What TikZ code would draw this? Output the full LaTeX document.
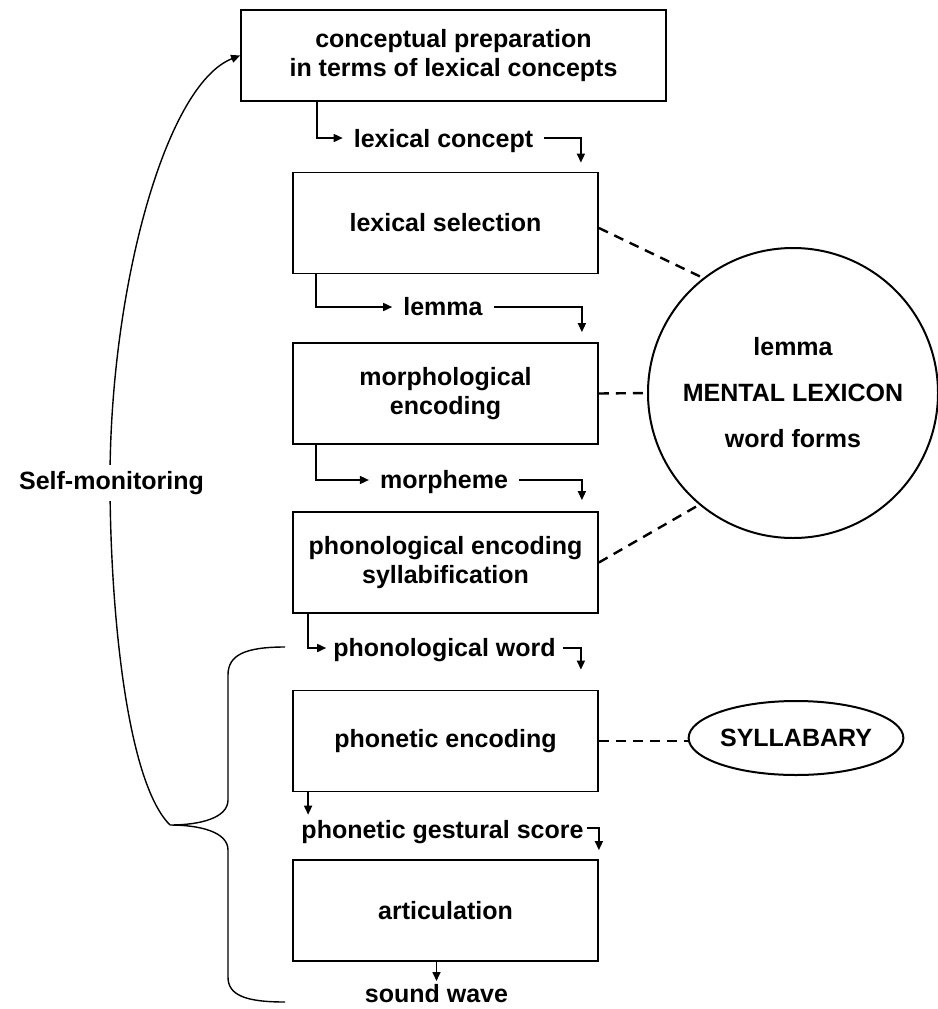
\documentclass[tikz,border=0pt]{standalone}
\usepackage{fontspec}
\setmainfont{Liberation Sans}
\usetikzlibrary{arrows.meta,shapes.geometric}
\newcommand\stagefont{\fontsize{25}{29}\selectfont\bfseries}
\begin{document}
\begin{tikzpicture}[x=1pt,y=-1pt,
  stage/.style={draw, line width=1.8pt, minimum width=305pt, minimum height=101pt,
    inner sep=0pt, align=center, font=\stagefont},
  lbl/.style={inner xsep=11pt, inner ysep=3pt, anchor=base, font=\stagefont},
  flow/.style={-{Triangle[length=9pt,width=8pt]}, line width=1.6pt},
  link/.style={dash pattern=on 10pt off 7pt, line width=2.4pt},
  thinline/.style={line width=1.4pt}]
\useasboundingbox (0,0) rectangle (937,1009);

% processing stages
\node[stage, minimum width=425pt, minimum height=91pt] (top) at (453.5,55.5)
  {conceptual preparation\\in terms of lexical concepts};
\node[stage] (b2) at (445.5,223) {lexical selection};
\node[stage] (b3) at (445.5,393.5) {morphological\\encoding};
\node[stage] (b4) at (445.5,562.5) {phonological encoding\\syllabification};
\node[stage] (b5) at (445.5,741) {phonetic encoding};
\node[stage] (b6) at (445.5,910.5) {articulation};

% intermediate representations (placed on their baselines)
\node[lbl] (lc) at (443.5,147) {lexical concept};
\node[lbl] (lm) at (443,315) {lemma};
\node[lbl] (mp) at (444,488) {morpheme};
\node[lbl, inner xsep=7pt] (pw) at (444.5,656) {phonological word};
\node[lbl, inner xsep=3pt, inner ysep=5pt] (pg) at (442.5,838) {phonetic gestural score};
\node[lbl, anchor=north, inner ysep=3pt] (sw) at (436.5,981) {sound wave};

% flow between stages
\draw[flow] ([xshift=77pt]top.south west) |- ([yshift=9pt]lc.base west);
\draw[flow] ([yshift=9pt]lc.base east) -| ([xshift=-18pt,yshift=9pt]b2.north east);
\draw[flow] ([xshift=24pt]b2.south west) |- ([yshift=8pt]lm.base west);
\draw[flow] ([yshift=8pt]lm.base east) -| ([xshift=-17pt,yshift=10pt]b3.north east);
\draw[flow] ([xshift=24pt]b3.south west) |- ([yshift=8pt]mp.base west);
\draw[flow] ([yshift=8pt]mp.base east) -| ([xshift=-17pt,yshift=11pt]b4.north east);
\draw[flow] ([xshift=16pt]b4.south west) |- ([yshift=8pt]pw.base west);
\draw[flow] ([yshift=8pt]pw.base east) -| ([xshift=-18pt,yshift=20pt]b5.north east);
\coordinate (b5out) at ([xshift=16pt]b5.south west);
\draw[flow] (b5out) -- (b5out |- pg.north);
\draw[flow] ([yshift=10pt]pg.base east) -| ([yshift=9pt]b6.north east);
\draw[flow] ([xshift=-9pt]b6.south) -- (sw.north);

% stores
\node[circle, draw, line width=2pt, minimum size=290pt, inner sep=0pt, align=center,
  font=\fontsize{25}{46}\selectfont\bfseries] (lex) at (793,393)
  {lemma\\MENTAL LEXICON\\word forms};
\node[ellipse, draw, line width=2pt, minimum width=213pt, minimum height=74pt,
  inner sep=0pt, font=\stagefont] (syl) at (796,738) {SYLLABARY};

\draw[link] ([yshift=-5pt]b2.east) -- (lex.128);
\draw[link] (b3.east) -- (lex.west);
\draw[link] (b4.east) -- (lex.230);
\draw[link] (b5.east) -- (b5.east -| syl.west);

% brace over the output stages and the monitoring loop
\coordinate (btop) at (285,647);
\coordinate (bbot) at (285,1002);
\coordinate (btip) at (170,825);
\draw[thinline] (btop) .. controls (245,647) and (228,655) .. (228,675) -- (228,800)
  .. controls (228,818) and (200,825) .. (btip)
  .. controls (200,825) and (228,832) .. (228,850) -- (228,977)
  .. controls (228,995) and (245,1002) .. (bbot);
\draw[thinline, -{Triangle[length=9pt,width=8pt]}] (btip)
  .. controls (125,780) and (110,600) .. (110,480)
  .. controls (110,290) and (165,85) .. (top.west);
\node[fill=white, inner xsep=2pt, inner ysep=6pt, font=\stagefont] (sm) at (111.5,483)
  {Self-monitoring};
\end{tikzpicture}
\end{document}
